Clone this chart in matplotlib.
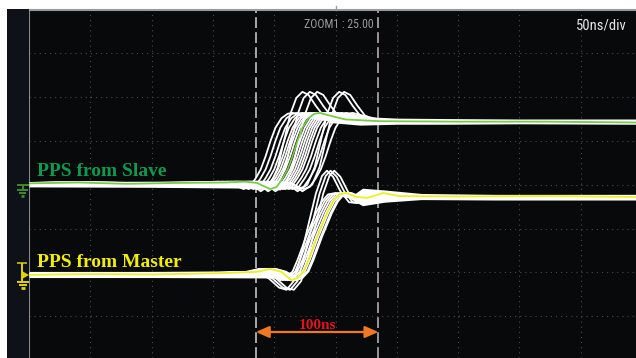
import numpy as np
import matplotlib
matplotlib.use("Agg")
import matplotlib.pyplot as plt
from matplotlib import font_manager
from matplotlib.lines import Line2D
from matplotlib.patches import Rectangle, Polygon

# time in ns (50 ns/div), level in divisions (0 = centre line)
slave_t = [0, 40, 80, 120, 160, 176, 186, 192, 197, 202, 207, 211, 215, 219, 223, 228, 233, 237, 245, 258, 286, 350, 420, 495]
slave_v = [0.03, 0.05, 0.02, 0.04, 0.05, 0.07, 0.04, -0.04, -0.10, -0.05, 0.15, 0.35, 0.65, 1.00, 1.30, 1.52, 1.62, 1.64, 1.58, 1.49, 1.45, 1.44, 1.44, 1.42]

# persistence: edge offsets (ns) of the stored slave captures
slave_shift = [-22, -18, -14, -11, -8, -6, -4, -2, 2, 4, 6, 8, 10, 12, 15, 18, 22, 27]

# captures with a larger overshoot
slave_ring_t = [0, 150, 186, 195, 203, 209, 214, 219, 224, 229, 234, 240, 246, 252, 265, 495]
slave_ring_v = [0.03, 0.04, 0.04, -0.15, 0.0, 0.40, 1.00, 1.60, 1.98, 2.12, 2.05, 1.80, 1.58, 1.50, 1.46, 1.43]
slave_ring_shift = [-6, 0, 6, 24, 28]

master_t = [0, 50, 100, 156, 186, 197, 206, 214, 219, 224, 228, 235, 243, 248, 253, 259, 267, 276, 289, 302, 350, 420, 495]
master_v = [-2.06, -2.04, -2.05, -2.02, -1.99, -1.92, -1.99, -2.18, -2.13, -1.98, -1.72, -1.19, -0.65, -0.38, -0.22, -0.19, -0.28, -0.30, -0.19, -0.26, -0.27, -0.26, -0.28]
master_shift = [-9, -7, -5, -3, -1, 1, 3, 4]

master_ring_t = [0, 150, 190, 200, 208, 214, 220, 226, 232, 238, 243, 247, 252, 258, 265, 272, 280, 290, 300, 320, 495]
master_ring_v = [-2.04, -2.03, -1.98, -2.15, -2.35, -2.40, -2.20, -1.60, -0.90, -0.20, 0.20, 0.32, 0.18, -0.15, -0.40, -0.42, -0.30, -0.16, -0.24, -0.28, -0.28]
master_ring_shift = [-4, -1, 2]

# noise bands of the accumulated captures on the flat parts
slave_low_t = [0, 100, 190, 205]
slave_low_lo = [-0.05, -0.06, -0.08, -0.12]
slave_low_hi = [0.07, 0.08, 0.08, 0.06]
slave_high_t = [245, 270, 300, 340, 400, 495]
slave_high_lo = [1.42, 1.36, 1.38, 1.38, 1.39, 1.38]
slave_high_hi = [1.58, 1.56, 1.52, 1.51, 1.50, 1.50]
master_low_t = [0, 100, 200, 215]
master_low_lo = [-2.12, -2.12, -2.13, -2.20]
master_low_hi = [-1.98, -1.98, -1.96, -2.00]
master_high_t = [262, 272, 290, 320, 380, 495]
master_high_lo = [-0.32, -0.48, -0.40, -0.34, -0.35, -0.35]
master_high_hi = [-0.28, -0.08, -0.12, -0.20, -0.22, -0.22]

cursors = [185, 285]
measured = "100ns"

W, H = 636, 358
X_DIV, Y_DIV = 61.3, 43.8  # pixels per division

names = {f.name for f in font_manager.fontManager.ttflist}
if "Roboto Condensed" in names:
    narrow, zoom_size, scale_size = "Roboto Condensed", 8.5, 10.5
elif "Liberation Sans Narrow" in names:
    narrow, zoom_size, scale_size = "Liberation Sans Narrow", 9, 11
else:
    narrow, zoom_size, scale_size = "Roboto", 7.6, 9.2
serif = "Liberation Serif"


def fpt(x, y):
    return x / W, 1 - y / H


fig = plt.figure(figsize=(W / 100, H / 100), dpi=100, facecolor="white")

# dark side panel with channel markers
fig.add_artist(Rectangle((7 / W, 0), 22 / W, (H - 9) / H, transform=fig.transFigure,
                         color="#0e1218", lw=0))

ax = fig.add_axes([29 / W, 0, (W - 29) / W, (H - 9.5) / H])
ax.set_facecolor("#08090b")
ax.set_xlim(0, (W - 29) / X_DIV * 50)
ax.set_ylim(4 - (H - 9.5) / Y_DIV, 4)
ax.set_xticks([])
ax.set_yticks([])
for side in ["right", "bottom"]:
    ax.spines[side].set_visible(False)
ax.spines["left"].set_color("#8a8a8a")
ax.spines["left"].set_linewidth(1.5)
ax.spines["top"].set_color("#9a9a9a")
ax.spines["top"].set_linewidth(1.5)

for t in range(50, 500, 50):
    ax.axvline(t, color="#4a4a4a", lw=0.8, ls=(0, (1, 3.6)), zorder=1)
for v in range(-3, 4):
    ax.axhline(v, color="#4a4a4a", lw=0.8, ls=(0, (1, 3.6)), zorder=1)

ax.axvline(cursors[0], color="#c8c0c0", lw=1.2, ls=(0, (6.5, 2.5)), zorder=2)
ax.axvline(cursors[1], color="#b8acac", lw=1.2, ls=(0, (6.5, 2.5)), zorder=2)

# persistence captures
for band_t, lo, hi in [(slave_low_t, slave_low_lo, slave_low_hi),
                       (slave_high_t, slave_high_lo, slave_high_hi),
                       (master_low_t, master_low_lo, master_low_hi),
                       (master_high_t, master_high_lo, master_high_hi)]:
    ax.fill_between(band_t, lo, hi, color="white", lw=0, zorder=3)

for s in slave_shift:
    ax.plot(np.array(slave_t) + s, slave_v, color="white", lw=1.3, zorder=3)
for s in slave_ring_shift:
    ax.plot(np.array(slave_ring_t) + s, slave_ring_v, color="white", lw=1.3, zorder=3)
for s in master_shift:
    ax.plot(np.array(master_t) + s, master_v, color="white", lw=1.3, zorder=3)
for s in master_ring_shift:
    ax.plot(np.array(master_ring_t) + s, master_ring_v, color="white", lw=1.3, zorder=3)

ax.plot(slave_t, slave_v, color="#78cc48", lw=1.3, zorder=5)
ax.plot(master_t, master_v, color="#f0ee20", lw=1.3, zorder=5)

ax.text(6.5, 0.2, "PPS from Slave", color="#0c9a4e", fontsize=14, fontweight="bold",
        family=serif, va="baseline", zorder=6)
ax.text(6.5, -1.88, "PPS from Master", color="#f2ee00", fontsize=14, fontweight="bold",
        family=serif, va="baseline", zorder=6)

arrow_y = 4 - (332 - 9.5) / Y_DIV
ax.annotate("", xy=(cursors[0], arrow_y), xytext=(cursors[1], arrow_y),
            arrowprops=dict(arrowstyle="<|-|>,head_length=0.8,head_width=0.35",
                            color="#f07820", lw=1.6, shrinkA=0, shrinkB=0), zorder=6)
ax.text(sum(cursors) / 2, 4 - (329 - 9.5) / Y_DIV, measured, color="#e0141c", fontsize=11,
        fontweight="bold", family=serif, ha="center", va="baseline", zorder=6)

fig.text(*fpt(374, 28), "ZOOM1 : 25.00", color="#9c9c9c", fontsize=zoom_size, family=narrow,
         ha="right", va="baseline")
fig.text(*fpt(627, 30), "50ns/div", color="#e8e8e8", fontsize=scale_size, family=narrow,
         ha="right", va="baseline")

# trigger position marker
fig.add_artist(Line2D(*zip(fpt(335.5, 6), fpt(335.5, 10)), transform=fig.transFigure,
                      color="#9a9a9a", lw=1))


def seg(x0, y0, x1, y1, color, lw=1.4):
    fig.add_artist(Line2D(*zip(fpt(x0, y0), fpt(x1, y1)), transform=fig.transFigure,
                          color=color, lw=lw, solid_capstyle="butt"))


# channel 2 ground marker
g = "#3f8a2a"
seg(17, 185, 29, 185, g)
seg(22.5, 185, 22.5, 190, g)
seg(17, 190, 28, 190, g)
seg(19, 193, 26, 193, g)
seg(21, 196, 24, 196, g, lw=2)

# channel 1 ground marker
y = "#e2d400"
seg(17, 263, 27, 263, "#b0a800")
seg(22, 263, 22, 283, y)
fig.add_artist(Polygon([fpt(22, 271), fpt(29, 275), fpt(22, 279)], closed=True,
                       transform=fig.transFigure, color=y, lw=0))
seg(17, 282, 29, 282, y)
seg(19, 285, 27, 285, y)
seg(21, 288, 25, 288, y, lw=2)

fig.savefig("out.png", dpi=100, facecolor="white")
